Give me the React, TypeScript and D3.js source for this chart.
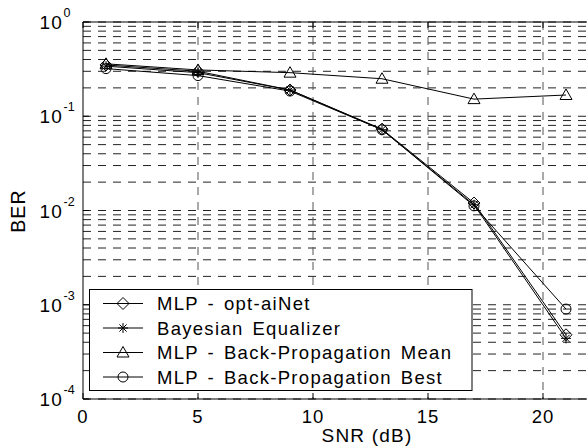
import React from 'react';
import * as d3 from 'd3';

// SNR points (dB)
const snr = [1, 5, 9, 13, 17, 21];

// BER per method
const aiNet = [0.35, 0.30, 0.19, 0.073, 0.012, 0.00048];
const bayes = [0.34, 0.29, 0.19, 0.072, 0.0115, 0.00044];
const bpMean = [0.36, 0.31, 0.29, 0.25, 0.152, 0.168];
const bpBest = [0.32, 0.27, 0.185, 0.072, 0.0112, 0.0009];

const seriesNames = [
  'MLP - opt-aiNet',
  'Bayesian Equalizer',
  'MLP - Back-Propagation Mean',
  'MLP - Back-Propagation Best',
];
const seriesMarkers = ['diamond', 'star', 'triangle', 'circle'];

const xTicks = [0, 5, 10, 15, 20, 25];
const xTickLabels = [0, 5, 10, 15, 20];
const yExponents = [0, -1, -2, -3, -4];

const W = 587;
const H = 448;
const font = '"Liberation Sans", Arial, Helvetica, sans-serif';

const Marker = ({kind, x, y}: {kind: string; x: number; y: number}) => {
  const s = 6;
  if (kind === 'diamond') {
    return <path d={`M${x},${y - s}L${x + s},${y}L${x},${y + s}L${x - s},${y}Z`} fill="none" stroke="#000" />;
  }
  if (kind === 'triangle') {
    return <path d={`M${x},${y - 6}L${x + 6},${y + 4.5}L${x - 6},${y + 4.5}Z`} fill="none" stroke="#000" />;
  }
  if (kind === 'circle') {
    return <circle cx={x} cy={y} r={5} fill="none" stroke="#000" />;
  }
  const r = 5;
  const d = r * 0.72;
  return (
    <path
      d={`M${x - r},${y}L${x + r},${y}M${x},${y - r}L${x},${y + r}M${x - d},${y - d}L${x + d},${y + d}M${x - d},${y + d}L${x + d},${y - d}`}
      stroke="#000"
      fill="none"
    />
  );
};

const App = () => {
  const x = d3.scaleLinear().domain([0, 25]).range([83, 658]);
  const y = d3.scaleLog().domain([1e-4, 1]).range([399, 22]);

  const series = [aiNet, bayes, bpMean, bpBest];
  const line = d3
    .line<number>()
    .x((_, i) => x(snr[i]))
    .y(d => y(d));

  // grid values at every 1..9 x 10^k
  const gridVals: number[] = [];
  for (let e = -4; e < 0; e++) {
    for (let m = 1; m <= 9; m++) gridVals.push(m * Math.pow(10, e));
  }
  gridVals.push(1);

  const left = x(0);
  const right = W;
  const top = y(1);
  const bottom = y(1e-4);

  return (
    <svg width={W} height={H} style={{position: 'absolute', left: 0, top: 0, background: '#fff'}}>
      <rect x={0} y={0} width={W} height={H} fill="#fff" />

      {/* grid */}
      <g stroke="#222" strokeWidth={1} strokeDasharray="8,7">
        {gridVals.map(v => (
          <line key={'h' + v} x1={left} x2={right} y1={y(v)} y2={y(v)} />
        ))}
        {xTicks.filter(t => t > 0).map(t => (
          <line key={'v' + t} x1={x(t)} x2={x(t)} y1={top} y2={bottom} stroke="#555" />
        ))}
      </g>

      {/* ticks */}
      <g stroke="#000">
        {xTicks.map(t => (
          <g key={'xt' + t}>
            <line x1={x(t)} x2={x(t)} y1={bottom} y2={bottom - 6} />
            <line x1={x(t)} x2={x(t)} y1={top} y2={top + 6} />
          </g>
        ))}
        {yExponents.map(e => (
          <line key={'yt' + e} x1={left} x2={left + 6} y1={y(Math.pow(10, e))} y2={y(Math.pow(10, e))} />
        ))}
      </g>

      {/* axes box */}
      <path d={`M${right},${top}H${left}V${bottom}H${right}`} fill="none" stroke="#000" strokeWidth={1} />

      {/* series */}
      {series.map((s, k) => (
        <g key={'s' + k}>
          <path d={line(s) || ''} fill="none" stroke="#000" strokeWidth={1} />
          {s.map((v, i) => (
            <Marker key={i} kind={seriesMarkers[k]} x={x(snr[i])} y={y(v)} />
          ))}
        </g>
      ))}

      {/* x tick labels */}
      <g fontFamily={font} fontSize={18.5} letterSpacing={1} textAnchor="middle" fill="#000">
        {xTickLabels.map(t => (
          <text key={'xl' + t} x={x(t)} y={423}>
            {t}
          </text>
        ))}
      </g>

      {/* y tick labels */}
      <g fontFamily={font} fill="#000">
        {yExponents.map(e => {
          const yy = y(Math.pow(10, e));
          return (
            <g key={'yl' + e}>
              <text x={63} y={yy + 7} fontSize={19} letterSpacing={1.2} textAnchor="end">
                10
              </text>
              <text x={63.5} y={yy - 5} fontSize={12.5}>
                {e}
              </text>
            </g>
          );
        })}
      </g>

      {/* axis labels */}
      <text x={367} y={442} fontFamily={font} fontSize={19} letterSpacing={1.2} textAnchor="middle">
        SNR (dB)
      </text>
      <text
        transform="translate(24.5,211) rotate(-90)"
        fontFamily={font}
        fontSize={19.5}
        letterSpacing={1.2}
        textAnchor="middle"
      >
        BER
      </text>

      {/* legend */}
      <g>
        <rect x={89.5} y={289.5} width={382.5} height={101} fill="#fff" stroke="#000" />
        {seriesNames.map((name, k) => {
          const ly = 303.5 + k * 24.5;
          return (
            <g key={'lg' + k}>
              <line x1={103} x2={143} y1={ly} y2={ly} stroke="#000" />
              <Marker kind={seriesMarkers[k]} x={123} y={ly} />
              <text
                x={157}
                y={ly + 6.5}
                fontFamily={font}
                fontSize={18.5}
                letterSpacing={1.3}
                wordSpacing={2.5}
                fill="#000"
              >
                {name}
              </text>
            </g>
          );
        })}
      </g>
    </svg>
  );
};

export default App;
